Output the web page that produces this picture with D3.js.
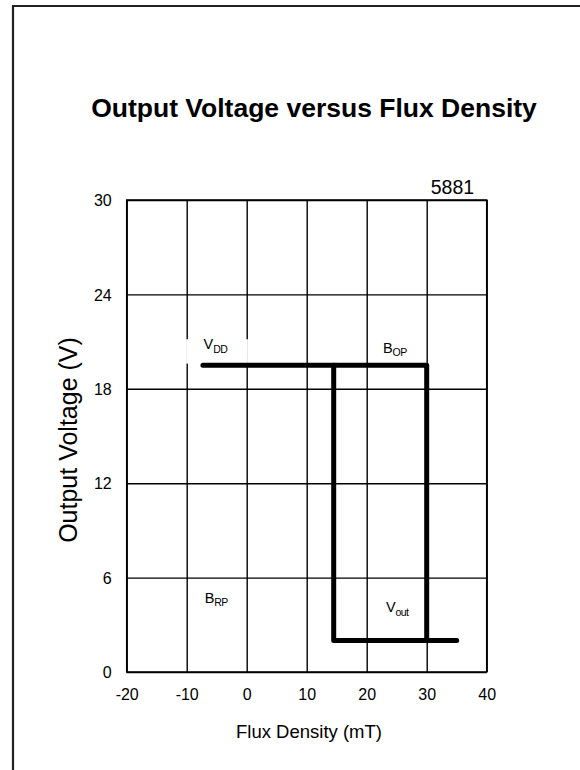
<!DOCTYPE html>
<html>
<head>
<meta charset="utf-8">
<script src="https://cdn.jsdelivr.net/npm/d3@7"></script>
<style>
  body { margin: 0; background: #fff; }
  svg { display: block; font-family: "Liberation Sans", Arial, sans-serif; }
</style>
</head>
<body>
<svg id="chart" width="580" height="770"></svg>
<script>

// axis ticks
var xTicks = [-20, -10, 0, 10, 20, 30, 40];
var yTicks = [0, 6, 12, 18, 24, 30];

// hysteresis loop
// B rising: output stays at VDD until B_OP, then drops
var fluxRising = [-7.3, 30, 30];
var voltRising = [19.5, 19.5, 2];
// B falling: output stays low until B_RP, then goes back up
var fluxFalling = [35, 14.5, 14.5];
var voltFalling = [2, 2, 19.5];

// annotations
var labelNames = ["V", "B", "B", "V"];
var labelSubs = ["DD", "OP", "RP", "out"];
var labelX = [-7.2, 22.7, -7.0, 23.2];
var labelY = [20.5, 20.3, 4.4, 3.8];

var svg = d3.select("#chart");

// frame lines of the original sheet
svg.append("line").attr("x1", 12).attr("x2", 580).attr("y1", 6).attr("y2", 6)
  .attr("stroke", "#222").attr("stroke-width", 2);
svg.append("line").attr("x1", 13).attr("x2", 13).attr("y1", 6).attr("y2", 770)
  .attr("stroke", "#222").attr("stroke-width", 2.2);

var margin = {top: 200, left: 126.7},
    width = 360,
    height = 472;

var g = svg.append("g").attr("transform", "translate(" + margin.left + "," + margin.top + ")");

var x = d3.scaleLinear().domain([-20, 40]).range([0, width]);
var y = d3.scaleLinear().domain([0, 30]).range([height, 0]);

// gridlines + tick labels (plain hyphen for negatives, like the original)
var fmt = function(d){ return String(d); };

var xAxis = g.append("g")
    .attr("transform", "translate(0," + height + ")")
    .call(d3.axisBottom(x).tickValues(xTicks).tickSize(-height).tickPadding(17).tickFormat(fmt));

var yAxis = g.append("g")
    .call(d3.axisLeft(y).tickValues(yTicks).tickSize(-width).tickPadding(15).tickFormat(fmt));

[xAxis, yAxis].forEach(function(a){
  a.select(".domain").remove();
  a.selectAll(".tick line").attr("stroke", "#000").attr("stroke-width", 1.4);
  a.selectAll(".tick text").attr("fill", "#000").attr("font-size", 16)
    .attr("font-family", "Liberation Sans, Arial, sans-serif");
});
yAxis.selectAll(".tick text").attr("dy", "0.36em");

// plot border
g.append("rect").attr("width", width).attr("height", height)
  .attr("fill", "none").attr("stroke", "#000").attr("stroke-width", 1.5);

// white patch behind the VDD label (covers the gridlines there)
g.append("rect")
  .attr("x", x(-10.1)).attr("y", y(21.15))
  .attr("width", x(0.2) - x(-10.1)).attr("height", y(19.6) - y(21.15))
  .attr("fill", "#fff");

var line = d3.line()
  .x(function(d){ return x(d[0]); })
  .y(function(d){ return y(d[1]); });

[[fluxRising, voltRising], [fluxFalling, voltFalling]].forEach(function(s){
  g.append("path")
    .datum(d3.zip(s[0], s[1]))
    .attr("fill", "none")
    .attr("stroke", "#000")
    .attr("stroke-width", 5)
    .attr("stroke-linejoin", "round")
    .attr("stroke-linecap", "round")
    .attr("d", line);
});

// point labels with subscripts
for (var i = 0; i < labelNames.length; i++){
  var t = g.append("text")
    .attr("x", x(labelX[i])).attr("y", y(labelY[i]))
    .attr("font-size", 14.5).attr("fill", "#000");
  t.append("tspan").text(labelNames[i]);
  t.append("tspan").attr("font-size", 10.5).attr("dy", 3.5).attr("letter-spacing", -0.6).text(labelSubs[i]);
}

// part number
g.append("text")
  .attr("x", x(37.9)).attr("y", -6)
  .attr("text-anchor", "end")
  .attr("font-size", 19.5)
  .text("5881");

// title
svg.append("text")
  .attr("x", 314).attr("y", 117)
  .attr("text-anchor", "middle")
  .attr("font-size", 26.5).attr("font-weight", "bold")
  .text("Output Voltage versus Flux Density");

// axis titles
svg.append("text")
  .attr("x", 309).attr("y", 738)
  .attr("text-anchor", "middle")
  .attr("font-size", 18.5)
  .text("Flux Density (mT)");

svg.append("text")
  .attr("transform", "translate(77,440) rotate(-90)")
  .attr("text-anchor", "middle")
  .attr("font-size", 25)
  .text("Output Voltage (V)");

</script>
</body>
</html>
